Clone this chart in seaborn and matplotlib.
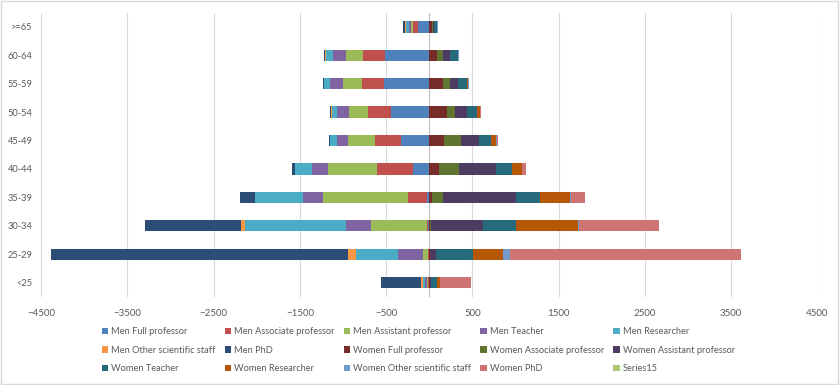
import numpy as np
import pandas as pd
import matplotlib
matplotlib.use("Agg")
import matplotlib.pyplot as plt
from matplotlib.patches import Rectangle
import seaborn as sns

# age groups, bottom to top
age_groups = ['<25', '25-29', '30-34', '35-39', '40-44', '45-49', '50-54', '55-59', '60-64', '>=65']

# men (drawn to the left)
men_full_prof = [5, 5, 10, 30, 190, 330, 445, 520, 515, 135]
men_assoc_prof = [5, 5, 20, 220, 410, 300, 265, 260, 250, 50]
men_asst_prof = [15, 65, 640, 980, 575, 310, 225, 225, 205, 25]
men_teacher = [25, 290, 300, 230, 185, 130, 135, 145, 145, 25]
men_researcher = [20, 485, 1165, 560, 195, 75, 60, 65, 85, 40]
men_other = [25, 95, 45, 5, 5, 5, 5, 5, 5, 10]
men_phd = [460, 3440, 1120, 175, 30, 15, 12, 12, 15, 20]

# women (drawn to the right)
women_full_prof = [5, 5, 10, 30, 115, 175, 205, 155, 95, 30]
women_assoc_prof = [5, 5, 15, 130, 225, 190, 95, 85, 60, 10]
women_asst_prof = [10, 65, 600, 845, 435, 215, 135, 90, 90, 15]
women_teacher = [70, 435, 385, 285, 180, 135, 115, 105, 85, 35]
women_researcher = [30, 340, 715, 345, 115, 60, 35, 20, 5, 5]
women_other = [5, 85, 10, 5, 5, 5, 5, 5, 5, 3]
women_phd = [360, 2680, 930, 165, 45, 15, 5, 5, 0, 0]

series15 = [0] * 10

men = pd.DataFrame({
    'Men Full professor': men_full_prof,
    'Men Associate professor': men_assoc_prof,
    'Men Assistant professor': men_asst_prof,
    'Men Teacher': men_teacher,
    'Men Researcher': men_researcher,
    'Men Other scientific staff': men_other,
    'Men PhD': men_phd,
}, index=age_groups)
women = pd.DataFrame({
    'Women Full professor': women_full_prof,
    'Women Associate professor': women_assoc_prof,
    'Women Assistant professor': women_asst_prof,
    'Women Teacher': women_teacher,
    'Women Researcher': women_researcher,
    'Women Other scientific staff': women_other,
    'Women PhD': women_phd,
    'Series15': series15,
}, index=age_groups)

colors = ['#4F81BD', '#C0504D', '#9BBB59', '#8064A2', '#4BACC6', '#F79646', '#2C4D75',
          '#772C2A', '#5F7530', '#4D3B62', '#276A7C', '#B65708', '#729ACA', '#CD7371',
          '#AFC97A']

sns.set_theme(style="white")
plt.rcParams['font.family'] = ['Lato', 'DejaVu Sans']

fig, ax = plt.subplots(figsize=(8.4, 3.85), dpi=100)
fig.subplots_adjust(left=0.049, right=0.973, top=0.967, bottom=0.229)

handles = []
ci = 0
left = np.zeros(len(age_groups))
for name in men.columns:
    vals = -men[name].values
    h = ax.barh(age_groups, vals, left=left, height=0.4, color=colors[ci], lw=0, label=name, zorder=2)
    left = left + vals
    handles.append(h)
    ci += 1
left = np.zeros(len(age_groups))
for name in women.columns:
    vals = women[name].values
    h = ax.barh(age_groups, vals, left=left, height=0.4, color=colors[ci], lw=0, label=name, zorder=2)
    left = left + vals
    handles.append(h)
    ci += 1

ax.set_xlim(-4500, 4500)
ax.set_ylim(-0.5, len(age_groups) - 0.5)
ax.set_xticks(np.arange(-4500, 4501, 1000))
ax.xaxis.grid(True, color='#D9D9D9', lw=0.8)
ax.yaxis.grid(False)
ax.axvline(0, color='#BFBFBF', lw=0.8, zorder=1)
ax.set_axisbelow(True)
for s in ax.spines.values():
    s.set_visible(False)
ax.tick_params(axis='both', length=0, labelsize=7, labelcolor='#595959')
ax.tick_params(axis='y', pad=6, labelsize=6.7)
ax.tick_params(axis='x', pad=9)

# legend filled row by row like the original
labels = list(men.columns) + list(women.columns)
order = [r * 5 + c for c in range(5) for r in range(3)]
fig.legend([handles[i] for i in order], [labels[i] for i in order],
           loc='upper center', bbox_to_anchor=(0.498, 0.162), ncol=5, frameon=False,
           fontsize=6.7, labelcolor='#595959', handlelength=0.7, handleheight=0.7,
           handletextpad=0.3, columnspacing=1.0, labelspacing=1.02, borderpad=0)

fig.patches.append(Rectangle((0.001, 0.002), 0.997, 0.995, transform=fig.transFigure,
                             fill=False, ec='#D9D9D9', lw=1))

fig.savefig('out.png', dpi=100)
